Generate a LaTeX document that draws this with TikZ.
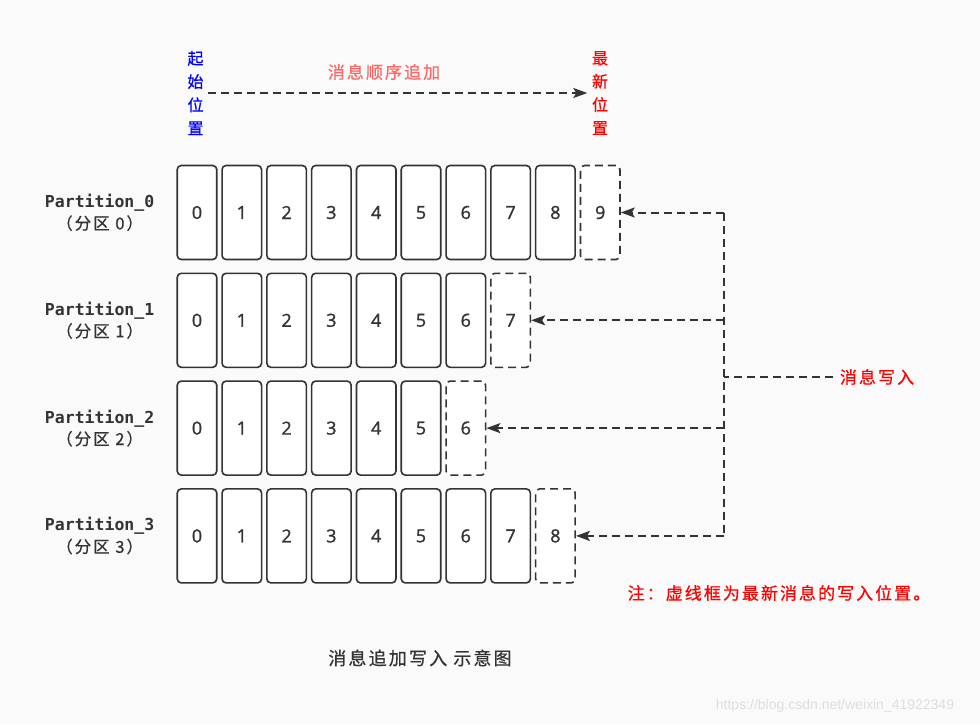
\documentclass[tikz,border=0pt]{standalone}
\usepackage{fontspec}
\usetikzlibrary{positioning,arrows.meta}
\setmainfont{Open Sans}
\newfontfamily\cjk[LetterSpace=12,FakeBold=0.6]{Noto Sans CJK SC}
\newfontfamily\mono{DejaVu Sans Mono}
\newfontfamily\digit[FakeBold=1.2]{Open Sans}
\newfontfamily\wm{Liberation Sans}

\definecolor{ink}{HTML}{333333}
\definecolor{bg}{HTML}{FAFAFA}
\definecolor{pinkred}{HTML}{FF6666}

\tikzset{
  cell/.style={draw=ink, fill=white, line width=1.6pt, rounded corners=4pt,
    minimum width=39.5pt, minimum height=94pt, inner sep=0pt,
    text=ink, font=\digit\fontsize{18}{18}\selectfont},
  newcell/.style={cell, dash pattern=on 8pt off 5pt},
  plabel/.style={align=center, inner sep=0pt, text=ink,
    font=\mono\bfseries\fontsize{16.5}{22}\selectfont},
  vlabel/.style={align=center, inner sep=4.5pt, font=\cjk\fontsize{16}{23.3}\selectfont},
  note/.style={inner sep=0pt, font=\cjk\fontsize{17}{17}\selectfont},
  dashline/.style={draw=ink, line width=2pt, dash pattern=on 8pt off 5pt},
  dasharrow/.style={dashline, -{Stealth[length=14pt,width=10pt,inset=3pt]}},
}

\begin{document}
\begin{tikzpicture}[x=1pt,y=-1pt]
  \fill[bg] (0,0) rectangle (980,724);
  \useasboundingbox (0,0) rectangle (980,724);

% Top
  \node[vlabel, text=blue]      (start)  at (195.5,93) {起\\始\\位\\置};
  \node[vlabel, text=red]       (latest) at (600,93)   {最\\新\\位\\置};
  \node[note, text=pinkred]     (order)  at (384,72)   {消息顺序追加};
  \draw[dasharrow] (start) -- (latest);

% Writer
  \node[note, text=red, inner sep=7pt] (write) at (877,377) {消息写入};
  \coordinate (bus) at (724,377);

% Partitions
  \foreach \r/\n in {0/9,1/7,2/6,3/8} {
    \pgfmathtruncatemacro{\m}{\n-1}
    \node[cell] (p\r-0) at (197,{212.5+107.8*\r}) {0};
    \foreach \i [remember=\i as \j (initially 0)] in {1,...,\m}
      \node[cell, right=3.7pt of p\r-\j] (p\r-\i) {\i};
    \node[newcell, right=3.7pt of p\r-\m] (p\r-\n) {\n};
    \node[plabel, left=22pt of p\r-0] (part\r) {Partition\_\r\\{\mdseries\cjk （分区 \r）}};
    \draw[dasharrow] (bus |- p\r-\n.east) -- (p\r-\n.east);
  }

% Edges
  \draw[dashline] (write) -- (bus);
  \draw[dashline] (bus |- p0-9.east) -- (bus |- p3-8.east);

% Notes
  \node[note, text=red] (remark)  at (779,593) {注：虚线框为最新消息的写入位置。};
  \node[note, text=ink, font=\cjk\fontsize{18}{18}\selectfont] (caption) at (420,658) {消息追加写入\ 示意图};
  \node[inner sep=0pt, text=black!13, font=\wm\fontsize{14}{14}\selectfont]
    (mark) at (835,706) {https://blog.csdn.net/weixin\_41922349};

\end{tikzpicture}
\end{document}
